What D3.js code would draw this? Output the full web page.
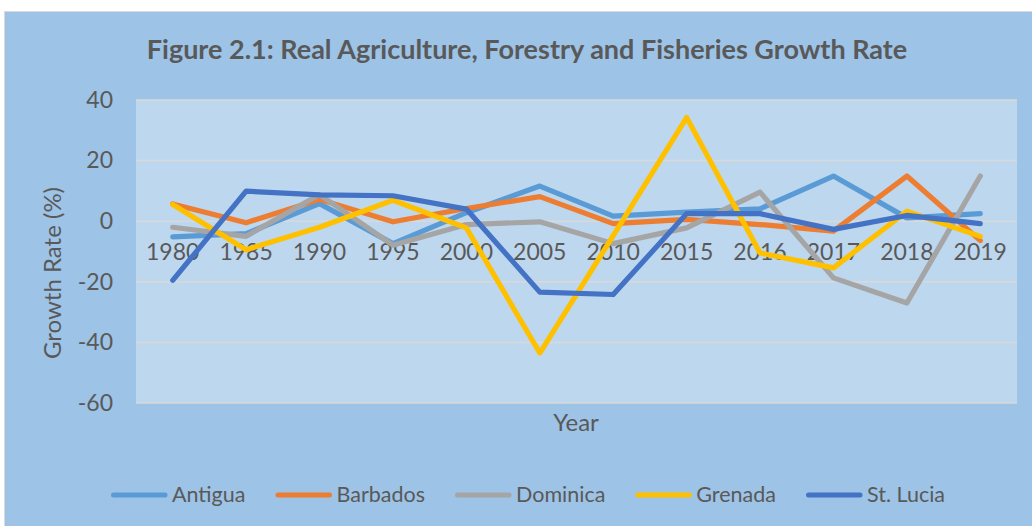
<!DOCTYPE html>
<html><head><meta charset="utf-8">
<script src="https://cdn.jsdelivr.net/npm/d3@7"></script>
<style>body{margin:0;background:#fff}svg{display:block}text{font-family:Lato,"Open Sans",sans-serif;fill:#595959}</style>
</head><body><div id="chart"></div>
<script>
const categories = ["1980","1985","1990","1995","2000","2005","2010","2015","2016","2017","2018","2019"];
const seriesNames = ["Antigua","Barbados","Dominica","Grenada","St. Lucia"];
const antigua  = [-5.2,-4.1, 5.8,-7.4, 2.8, 11.6, 1.7, 3.0, 4.1, 14.9, 1.1, 2.5];
const barbados = [ 5.7,-0.5, 7.2,-0.2, 4.2,  8.1,-0.8, 0.6,-1.1, -3.3,14.9,-6.4];
const dominica = [-2.0,-5.0, 8.8,-7.9,-1.1, -0.2,-7.4,-2.2, 9.6,-18.7,-27.0,14.9];
const grenada  = [ 5.5,-9.4,-2.0, 6.9,-2.2,-43.5,-4.8,34.2,-10.5,-15.4, 3.3,-5.0];
const stlucia  = [-19.5,9.9, 8.7, 8.4, 4.0,-23.4,-24.2, 2.5, 2.5, -2.7, 1.9,-0.8];
const yTicks = [40,20,0,-20,-40,-60];
const colors = ["#5B9BD5","#ED7D31","#A5A5A5","#FFC000","#4472C4"];
const seriesValues = [antigua,barbados,dominica,grenada,stlucia];

const W=1032,H=526;
const svg=d3.select("#chart").append("svg").attr("width",W).attr("height",H);
// chart area
svg.append("rect").attr("x",4.5).attr("y",11.5).attr("width",W).attr("height",H).attr("fill","#9DC3E6").attr("stroke","#D9D9D9").attr("stroke-width",1);

const plot={l:136,r:1017,t:100,b:403};
const x=d3.scaleBand().domain(categories).range([plot.l,plot.r]);
const y=d3.scaleLinear().domain([-60,40]).range([plot.b,plot.t]);

svg.append("rect").attr("x",plot.l).attr("y",plot.t).attr("width",plot.r-plot.l).attr("height",plot.b-plot.t).attr("fill","#BDD7EE");

// gridlines
svg.append("g").selectAll("line").data(yTicks).join("line")
  .attr("x1",plot.l).attr("x2",plot.r).attr("y1",d=>y(d)).attr("y2",d=>y(d))
  .attr("stroke","#D9D9D9").attr("stroke-width",1.5);

// y axis labels
const yAxis=svg.append("g").attr("transform",`translate(${plot.l},0)`)
  .call(d3.axisLeft(y).tickValues(yTicks).tickSize(0).tickPadding(23).tickFormat(d=>String(d)));
yAxis.select(".domain").remove();
yAxis.selectAll("text").style("font-size","23px").attr("fill","#595959").style("font-family","Lato");

// x axis labels at zero line
const xAxis=svg.append("g").attr("transform",`translate(0,${y(0)})`)
  .call(d3.axisBottom(x).tickSize(0));
xAxis.select(".domain").remove();
xAxis.selectAll("text").style("font-size","23px").attr("fill","#595959").style("font-family","Lato").attr("y",39).attr("dy","0");

// lines
const line=d3.line().x((d,i)=>x(categories[i])+x.bandwidth()/2).y(d=>y(d));
svg.append("g").selectAll("path").data(seriesValues).join("path")
  .attr("d",d=>line(d)).attr("fill","none").attr("stroke",(d,i)=>colors[i])
  .attr("stroke-width",5.2).attr("stroke-linejoin","round").attr("stroke-linecap","round");

// title
svg.append("text").attr("x",527).attr("y",59).attr("text-anchor","middle")
  .style("font-size","27px").style("font-weight","bold")
  .text("Figure 2.1: Real Agriculture, Forestry and Fisheries Growth Rate");

// axis titles
svg.append("text").attr("transform","translate(61,273) rotate(-90)").attr("text-anchor","middle")
  .style("font-size","24px").text("Growth Rate (%)");
svg.append("text").attr("x",576).attr("y",431).attr("text-anchor","middle")
  .style("font-size","24px").text("Year");

// legend
const lg=svg.append("g");
let cx=111;
seriesNames.forEach((n,i)=>{
  const g=lg.append("g");
  g.append("line").attr("x1",cx+2.5).attr("x2",cx+54).attr("y1",495).attr("y2",495)
    .attr("stroke",colors[i]).attr("stroke-width",5).attr("stroke-linecap","round");
  const t=g.append("text").attr("x",cx+61).attr("y",502).style("font-size","21.5px").text(n);
  cx+=61+t.node().getComputedTextLength()+30;
});
</script></body></html>
